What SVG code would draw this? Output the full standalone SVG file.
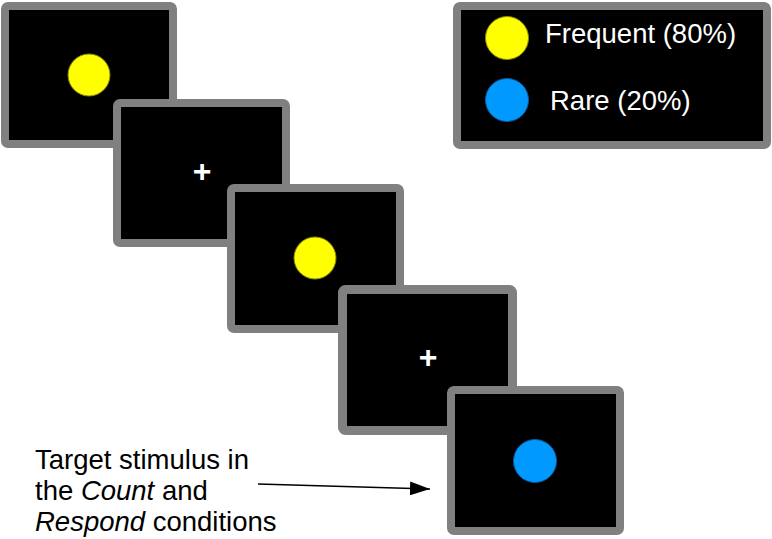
<svg xmlns="http://www.w3.org/2000/svg" width="772" height="539" viewBox="0 0 772 539">
<style>
.scr{fill:#000;stroke:#808080;stroke-width:8;}
.yel{fill:#ffff00;stroke:#8a8a00;stroke-width:1;}
.blu{fill:#0099ff;stroke:#0a5a9a;stroke-width:1;}
.plus{fill:#fff;font-family:"Liberation Sans",Arial,sans-serif;font-size:32px;font-weight:bold;text-anchor:middle;}
.lg{fill:#fff;font-family:"Liberation Sans",Arial,sans-serif;font-size:27.5px;}
.lbl{fill:#000;font-family:"Liberation Sans",Arial,sans-serif;font-size:27.5px;}
</style>
<defs>
<marker id="ah" markerWidth="20" markerHeight="14" refX="20" refY="7" orient="auto" markerUnits="userSpaceOnUse">
<path d="M0,0 L20,7 L0,14 Z" fill="#000"/>
</marker>
</defs>
<rect width="772" height="539" fill="#fff"/>
<g id="screen1">
<rect class="scr" x="5" y="6" width="168" height="138" rx="3"/>
<circle class="yel" cx="89" cy="75" r="21"/>
</g>
<g id="screen2">
<rect class="scr" x="117" y="103" width="169" height="140" rx="3"/>
<text class="plus" x="202" y="182">+</text>
</g>
<g id="screen3">
<rect class="scr" x="231" y="188" width="169" height="141" rx="3"/>
<circle class="yel" cx="315" cy="258" r="21"/>
</g>
<g id="screen4">
<rect class="scr" x="342.5" y="289.5" width="170" height="141" rx="3" style="stroke-width:9"/>
<text class="plus" x="428" y="368">+</text>
</g>
<g id="screen5">
<rect class="scr" x="451" y="390" width="169" height="141" rx="3"/>
<circle class="blu" cx="535" cy="461" r="21.5"/>
</g>
<g id="legend">
<rect class="scr" x="457" y="6" width="310" height="139" rx="3"/>
<circle class="yel" cx="507" cy="38" r="21.5"/>
<circle class="blu" cx="507" cy="100" r="21.5"/>
<text class="lg" x="545" y="43">Frequent (80%)</text>
<text class="lg" x="550" y="110">Rare (20%)</text>
</g>
<g id="label">
<text class="lbl" x="35" y="469">Target stimulus in</text>
<text class="lbl" x="35" y="500">the <tspan font-style="italic">Count</tspan> and</text>
<text class="lbl" x="35" y="531"><tspan font-style="italic">Respond</tspan> conditions</text>
</g>
<g id="connectors">
<line x1="258" y1="484" x2="430" y2="489" stroke="#000" stroke-width="1.5" marker-end="url(#ah)"/>
</g>
</svg>
